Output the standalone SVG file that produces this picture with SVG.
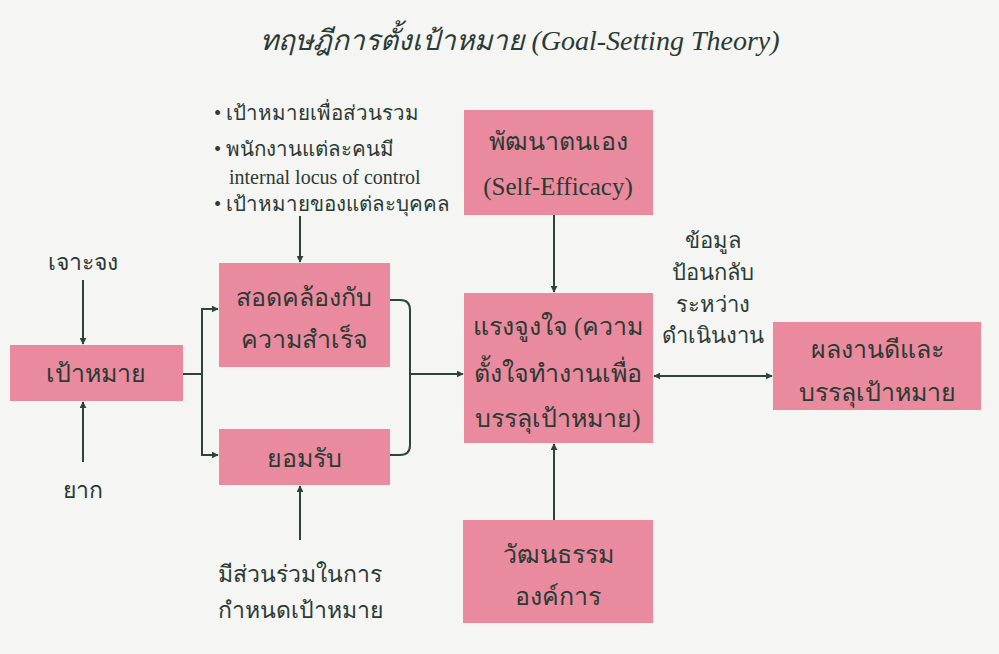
<svg xmlns="http://www.w3.org/2000/svg" width="999" height="654" viewBox="0 0 999 654">
<defs>
<style>
.bg{fill:#f5f5f3}
.box{fill:#ea8a9f}
.t{font-family:"Liberation Serif","Noto Sans",serif;fill:#2b3a33;text-anchor:middle}
.l{font-family:"Liberation Serif","Noto Sans",serif;fill:#2b3a33;text-anchor:start;font-size:20.5px}
.b{font-size:25px}
.s{font-size:23px}
.f{font-size:22px}
.e{fill:none;stroke:#2d4438;stroke-width:2}
</style>
<marker id="ah" viewBox="0 0 10 10" refX="9" refY="5" markerWidth="7" markerHeight="7" orient="auto-start-reverse" markerUnits="userSpaceOnUse">
<path d="M0,0 L10,5 L0,10 z" fill="#2d4438"/>
</marker>
</defs>
<rect class="bg" x="0" y="0" width="999" height="654"/>
<text class="t" x="520" y="50" font-size="28" font-style="italic">ทฤษฎีการตั้งเป้าหมาย (Goal-Setting Theory)</text>

<g id="goal"><rect class="box" x="10" y="345" width="173" height="56"/><text class="t b" x="96" y="382">เป้าหมาย</text></g>
<g id="specific"><text class="t s" x="83" y="270">เจาะจง</text></g>
<g id="difficult"><text class="t s" x="83" y="498">ยาก</text></g>
<g id="align"><rect class="box" x="219" y="263" width="171" height="104"/><text class="t b" x="304" y="306">สอดคล้องกับ</text><text class="t b" x="304" y="348">ความสำเร็จ</text></g>
<g id="accept"><rect class="box" x="219" y="429" width="171" height="56"/><text class="t b" x="304" y="467">ยอมรับ</text></g>
<g id="bullets">
<text class="l" x="214" y="120">• เป้าหมายเพื่อส่วนรวม</text>
<text class="l" x="214" y="156">• พนักงานแต่ละคนมี</text>
<text class="l" x="229" y="184" style="font-size:20px">internal locus of control</text>
<text class="l" x="214" y="211">• เป้าหมายของแต่ละบุคคล</text>
</g>
<g id="participate"><text class="t s" x="300" y="582">มีส่วนร่วมในการ</text><text class="t s" x="300" y="618">กำหนดเป้าหมาย</text></g>
<g id="selfdev"><rect class="box" x="464" y="110" width="189" height="105"/><text class="t b" x="558" y="150">พัฒนาตนเอง</text><text class="t b" x="558" y="195">(Self-Efficacy)</text></g>
<g id="motivation"><rect class="box" x="464" y="293" width="189" height="150"/><text class="t b" x="558" y="335">แรงจูงใจ (ความ</text><text class="t b" x="558" y="382">ตั้งใจทำงานเพื่อ</text><text class="t b" x="558" y="427">บรรลุเป้าหมาย)</text></g>
<g id="culture"><rect class="box" x="463" y="520" width="190" height="103"/><text class="t b" x="558" y="563">วัฒนธรรม</text><text class="t b" x="558" y="605">องค์การ</text></g>
<g id="feedback"><text class="t f" x="713" y="248">ข้อมูล</text><text class="t f" x="713" y="280">ป้อนกลับ</text><text class="t f" x="713" y="312">ระหว่าง</text><text class="t f" x="713" y="343">ดำเนินงาน</text></g>
<g id="result"><rect class="box" x="773" y="322" width="208" height="88"/><text class="t b" x="877" y="358">ผลงานดีและ</text><text class="t b" x="877" y="401">บรรลุเป้าหมาย</text></g>

<g id="connectors">
<line class="e" x1="83" y1="280" x2="83" y2="344" marker-end="url(#ah)"/>
<line class="e" x1="83" y1="462" x2="83" y2="402" marker-end="url(#ah)"/>
<path class="e" d="M183,374 H202"/>
<path class="e" d="M218,309 H202 V455 H218" marker-start="url(#ah)" marker-end="url(#ah)"/>
<line class="e" x1="300" y1="216" x2="300" y2="262" marker-end="url(#ah)"/>
<line class="e" x1="300" y1="540" x2="300" y2="486" marker-end="url(#ah)"/>
<path class="e" d="M390,300 H400 Q410,300 410,310 V445 Q410,455 400,455 H390"/>
<line class="e" x1="410" y1="374" x2="463" y2="374" marker-end="url(#ah)"/>
<line class="e" x1="554" y1="215" x2="554" y2="292" marker-end="url(#ah)"/>
<line class="e" x1="554" y1="520" x2="554" y2="444" marker-end="url(#ah)"/>
<line class="e" x1="654" y1="376" x2="772" y2="376" marker-start="url(#ah)" marker-end="url(#ah)"/>
</g>
</svg>
